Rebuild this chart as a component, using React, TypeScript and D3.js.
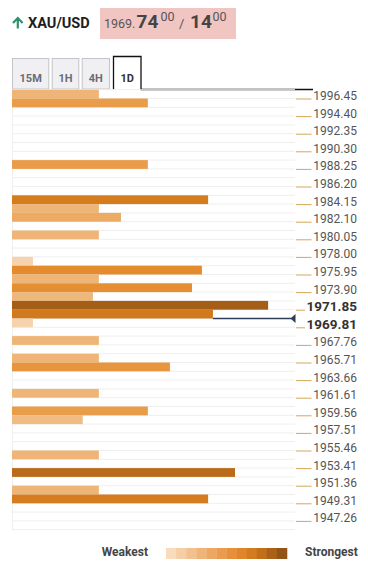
import React from "react";
import * as d3 from "d3";

// Strength per price row (top row = highest price), 0 = no confluence
const ROW_STRENGTH: number[] = [
  30.7, 48, 0, 0, 0, 0, 0, 0, 48, 0,
  0, 0, 69.3, 30.7, 38.5, 0, 30.7, 0, 0, 7.4,
  67.1, 30.7, 63.6, 28.6, 90.5, 71, 7.4, 0, 30.7, 0,
  30.7, 55.8, 0, 0, 30.7, 0, 48, 25, 0, 0,
  0, 30.7, 0, 78.8, 0, 30.7, 69.3, 0, 0, 0,
];

const PRICE_LABELS: string[] = [
  "1996.45", "1994.40", "1992.35", "1990.30", "1988.25", "1986.20", "1984.15",
  "1982.10", "1980.05", "1978.00", "1975.95", "1973.90", "1971.85", "1969.81",
  "1967.76", "1965.71", "1963.66", "1961.61", "1959.56", "1957.51", "1955.46",
  "1953.41", "1951.36", "1949.31", "1947.26",
];
const BOLD_LABELS: string[] = ["1971.85", "1969.81"];
const CURRENT_ROW = 25;

const TABS: string[] = ["15M", "1H", "4H", "1D"];
const ACTIVE_TAB = "1D";

const LEGEND_COLORS: string[] = [
  "#f8dcbd", "#f5cea5", "#f2c18f", "#efb478", "#eca863", "#e99c4f",
  "#e6903c", "#e0852a", "#d27b1f", "#c06f1b", "#aa6218", "#925515",
];

const FONT = "Roboto, 'Noto Sans', sans-serif";

export default function App() {
  const left = 12;
  const right = 295;
  const top = 89.7;
  const bottom = 529.7;

  const rows = d3.range(ROW_STRENGTH.length);
  const y = d3.scaleBand<number>().domain(rows).range([top, bottom]).padding(0);
  const x = d3.scaleLinear().domain([0, 100]).range([left, right]);
  const color = d3
    .scaleLinear<string>()
    .domain([0, 30, 48, 67.5, 69, 79, 92])
    .range(["#f8dcbd", "#eeb679", "#e99d4b", "#e38b2c", "#d67e1e", "#b96b1a", "#a15c14"]);

  const bw = y.bandwidth();

  const tabX = d3
    .scaleOrdinal<string, [number, number]>()
    .domain(TABS)
    .range([
      [12, 49.3],
      [51.7, 79.3],
      [81.7, 110],
      [113.5, 141],
    ]);

  const legendX = d3.scaleBand<number>().domain(d3.range(LEGEND_COLORS.length)).range([166, 287]);

  const curY = (y(CURRENT_ROW) as number) + bw;
  const curX = x(ROW_STRENGTH[CURRENT_ROW]);

  return (
    <div style={{ position: "absolute", left: 0, top: 0 }}>
      <svg width={368} height={570} style={{ display: "block", background: "#fff", fontFamily: FONT }}>
        {/* header */}
        <g>
          <path d="M17.8,28.5 V18.5 M13,23 L17.8,18 L22.6,23" stroke="#2f8f70" strokeWidth={2.2} fill="none" />
          <text x={28} y={28} fontSize={14.5} fontWeight={700} fill="#1e1e1e">XAU/USD</text>
          <rect x={100} y={8} width={136} height={31} fill="#f1c5c2" />
          <text x={104} y={28} fontSize={12.5} fill="#555">1969.</text>
          <text x={136.5} y={28} fontSize={19} fontWeight={700} fill="#444">74</text>
          <text x={160.5} y={21} fontSize={12.5} fill="#555">00</text>
          <text x={179} y={28} fontSize={13} fill="#555">/</text>
          <text x={190} y={28} fontSize={19} fontWeight={700} fill="#444">14</text>
          <text x={212.5} y={21} fontSize={12.5} fill="#555">00</text>
        </g>

        {/* tabs */}
        <g>
          {TABS.map((t) => {
            const [x0, x1] = tabX(t);
            const active = t === ACTIVE_TAB;
            return (
              <g key={t}>
                {active ? (
                  <>
                    <rect x={x0} y={56.5} width={x1 - x0} height={33} fill="#fff" />
                    <path d={`M${x0},89.5 V56.5 H${x1} V89.5 H313`} stroke="#111" strokeWidth={1.3} fill="none" />
                  </>
                ) : (
                  <rect x={x0 + 0.5} y={58.5} width={x1 - x0 - 1} height={30.5} fill="#f0f0f3" stroke="#c3c3c8" strokeWidth={1} />
                )}
                <text
                  x={(x0 + x1) / 2}
                  y={82.3}
                  textAnchor="middle"
                  fontSize={11}
                  fontWeight={700}
                  fill={active ? "#333" : "#6b6b76"}
                >
                  {t}
                </text>
              </g>
            );
          })}
        </g>

        {/* row grid */}
        <g>
          {d3.range(ROW_STRENGTH.length + 1).map((i) => {
            const yy = top + i * bw;
            return <line key={i} x1={left} x2={right} y1={yy} y2={yy} stroke="#eeeeee" strokeWidth={1} />;
          })}
          <line x1={left + 0.5} x2={left + 0.5} y1={top} y2={bottom} stroke="#eeeeee" />
        </g>

        {/* bars */}
        <g>
          {rows.map((i) =>
            ROW_STRENGTH[i] > 0 ? (
              <rect
                key={i}
                x={left}
                y={y(i)}
                width={x(ROW_STRENGTH[i]) - left}
                height={bw}
                fill={color(ROW_STRENGTH[i])}
              />
            ) : null
          )}
        </g>

        {/* current price line */}
        <g>
          <line x1={curX} x2={292} y1={curY} y2={curY} stroke="#2d3d5a" strokeWidth={1.3} />
          <path d={`M290.5,${curY} L295.5,${curY - 4.5} L295.5,${curY + 4.5} Z`} fill="#2d3d5a" />
        </g>

        {/* price labels */}
        <g>
          {PRICE_LABELS.map((p, k) => {
            const yy = (y(2 * k + 1) as number);
            const bold = BOLD_LABELS.includes(p);
            return (
              <g key={p}>
                <line x1={296} x2={bold ? 305 : 311.5} y1={yy + 0.5} y2={yy + 0.5} stroke="#d7a65a" strokeWidth={1} />
                <text
                  x={357}
                  y={yy + 1.5}
                  textAnchor="end"
                  fontSize={bold ? 13.5 : 12}
                  fontWeight={bold ? 700 : 400}
                  fill={bold ? "#333" : "#555"}
                >
                  {p}
                </text>
              </g>
            );
          })}
        </g>

        {/* legend */}
        <g>
          <text x={148} y={556} textAnchor="end" fontSize={12} fontWeight={700} fill="#444">Weakest</text>
          {LEGEND_COLORS.map((c, i) => (
            <rect key={i} x={legendX(i)} y={548} width={legendX.bandwidth() + 0.3} height={11} fill={c} />
          ))}
          <text x={305} y={556} fontSize={12} fontWeight={700} fill="#444">Strongest</text>
        </g>
      </svg>
    </div>
  );
}
